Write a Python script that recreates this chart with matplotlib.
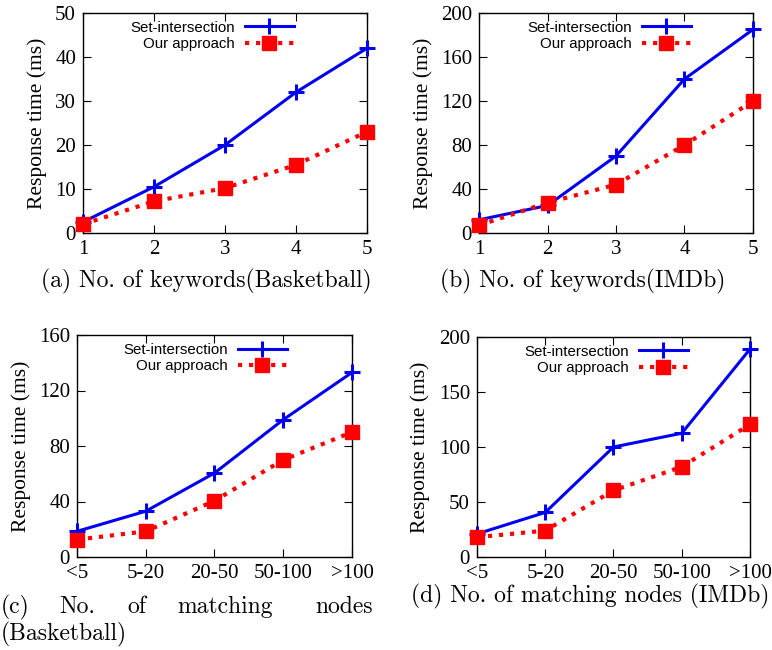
import matplotlib
matplotlib.use("Agg")
import matplotlib.pyplot as plt

plt.rcParams["font.family"] = ["Liberation Serif", "DejaVu Serif"]

# ---- data ----
kw_x = [1, 2, 3, 4, 5]
kw_ticks = ["1", "2", "3", "4", "5"]
nodes_x = [1, 2, 3, 4, 5]
nodes_ticks = ["<5", "5-20", "20-50", "50-100", ">100"]

a_set = [2.5, 10.5, 20, 32, 42]
a_our = [2, 7.2, 10.2, 15.5, 23]
b_set = [12, 25, 70, 140, 185]
b_our = [7, 27.5, 44, 80, 120]
c_set = [18.5, 33, 60.5, 99, 133]
c_our = [12.5, 18.5, 40.5, 70, 90]
d_set = [21, 40.5, 100, 112.5, 189]
d_our = [18, 24, 60.5, 82, 120.5]

W, H = 772, 650
fig = plt.figure(figsize=(W / 100, H / 100), dpi=100)


def px_axes(left, right, top, bottom):
    return fig.add_axes([left / W, 1 - bottom / H, (right - left) / W, (bottom - top) / H])


def panel(ax, x, s_set, s_our, ticks, ymax, ystep, leg_x):
    ax.plot(x, s_set, "-", color="#0000ee", lw=2.2, marker="+", ms=12, mew=2.2,
            clip_on=False, zorder=3, label="Set-intersection")
    ax.plot(x, s_our, ":", color="#ff0000", lw=3.0, marker="s", ms=10.5,
            mec="#ff0000", mfc="#ff0000", clip_on=False, zorder=4, label="Our approach")
    ax.set_xlim(1, 5)
    ax.set_ylim(0, ymax)
    ax.set_xticks(x)
    ax.set_xticklabels(ticks)
    ax.set_yticks(range(0, ymax + 1, ystep))
    ax.tick_params(direction="in", top=True, right=True, length=6, width=0.8,
                   labelsize=15, pad=5)
    for sp in ax.spines.values():
        sp.set_linewidth(1.0)
    ax.set_ylabel("Response time (ms)", fontsize=15.5, labelpad=6)
    ax.legend(loc="upper right", bbox_to_anchor=(leg_x, 0.965), frameon=False,
              markerfirst=False, handlelength=3.3, handletextpad=0.65,
              labelspacing=0.15, prop={"family": "Liberation Sans", "size": 10.8},
              borderaxespad=0, borderpad=0)


ax_a = px_axes(83, 367, 13, 233)
panel(ax_a, kw_x, a_set, a_our, kw_ticks, 50, 10, 0.743)
ax_b = px_axes(479, 753, 13, 233)
panel(ax_b, kw_x, b_set, b_our, kw_ticks, 200, 40, 0.774)
ax_c = px_axes(77, 352, 335, 557)
panel(ax_c, nodes_x, c_set, c_our, nodes_ticks, 160, 40, 0.764)
ax_d = px_axes(477, 750, 337, 557)
panel(ax_d, nodes_x, d_set, d_our, nodes_ticks, 200, 50, 0.773)

# captions (Computer Modern look)
cap = dict(fontsize=17, va="center", family="cmr10")
fig.text(206 / W, 1 - 281 / H, "(a) No. of keywords(Basketball)", ha="center", **cap)
fig.text(583 / W, 1 - 281 / H, "(b) No. of keywords(IMDb)", ha="center", **cap)
# justified caption (c)
for word, xpx, ha in [("(c)", 1, "left"), ("No.", 59, "left"), ("of", 127, "left"),
                      ("matching", 177, "left"), ("nodes", 373, "right")]:
    fig.text(xpx / W, 1 - 607 / H, word, ha=ha, **cap)
fig.text(1 / W, 1 - 634 / H, "(Basketball)", ha="left", **cap)
fig.text(590 / W, 1 - 596 / H, "(d) No. of matching nodes (IMDb)", ha="center", **cap)

fig.savefig("out.png", dpi=100)
